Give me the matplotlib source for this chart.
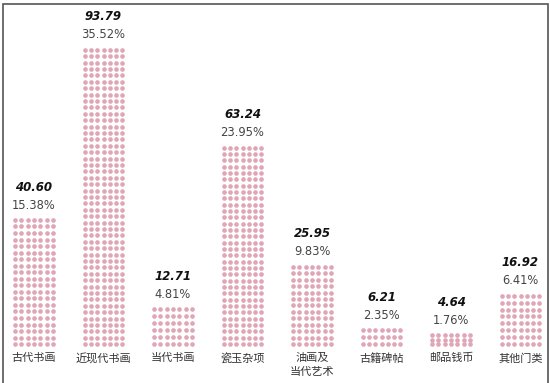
import numpy as np
import matplotlib
matplotlib.use("Agg")
import matplotlib.pyplot as plt
from matplotlib.patches import Rectangle

categories = ["古代书画", "近现代书画", "当代书画", "瓷玉杂项", "油画及\n当代艺术", "古籍碑帖", "邮品钱币", "其他门类"]
values = [40.60, 93.79, 12.71, 63.24, 25.95, 6.21, 4.64, 16.92]
shares = ["15.38%", "35.52%", "4.81%", "23.95%", "9.83%", "2.35%", "1.76%", "6.41%"]

plt.rcParams['font.family'] = ['Noto Sans CJK SC', 'DejaVu Sans']

W, H = 550, 383
fig = plt.figure(figsize=(W / 100, H / 100), dpi=100)
ax = fig.add_axes([0, 0, 1, 1])
ax.set_axis_off()

px_per_unit = 3.2
base_px = 36          # baseline height above bottom (px)
x0_px, step_px = 34, 69.5
ax.set_xlim(-x0_px / step_px, (W - x0_px) / step_px)
ax.set_ylim(-base_px / px_per_unit, (H - base_px) / px_per_unit)

col_pitch = 6.3 / step_px
dot_color = "#e0a5b6"
for i, v in enumerate(values):
    nrows = max(3, int(round(v / 2)))
    pad = 0.9
    ys = np.linspace(pad, v - pad, nrows)
    xs = i + (np.arange(7) - 3) * col_pitch
    gx, gy = np.meshgrid(xs, ys)
    ax.scatter(gx.ravel(), gy.ravel(), s=11, color=dot_color, linewidths=0)
    ax.text(i, v + 12 / px_per_unit, shares[i], ha="center", va="center",
            fontsize=8.3, color="#444444", family=["DejaVu Sans"])
    ax.text(i, v + 30 / px_per_unit, f"{v:.2f}", ha="center", va="center",
            fontsize=8.5, color="#111111", fontweight="bold", fontstyle="italic",
            family=["DejaVu Sans"])
    ax.text(i, -6 / px_per_unit, categories[i], ha="center", va="top",
            fontsize=8, color="#333333", linespacing=1.5)

fig.add_artist(Rectangle((2.5 / W, -0.01), (W - 5) / W, 1 - 3.5 / H + 0.01,
                         transform=fig.transFigure, fill=False,
                         edgecolor="#555555", linewidth=1.2))

fig.savefig("out.png", dpi=100, facecolor="white")
